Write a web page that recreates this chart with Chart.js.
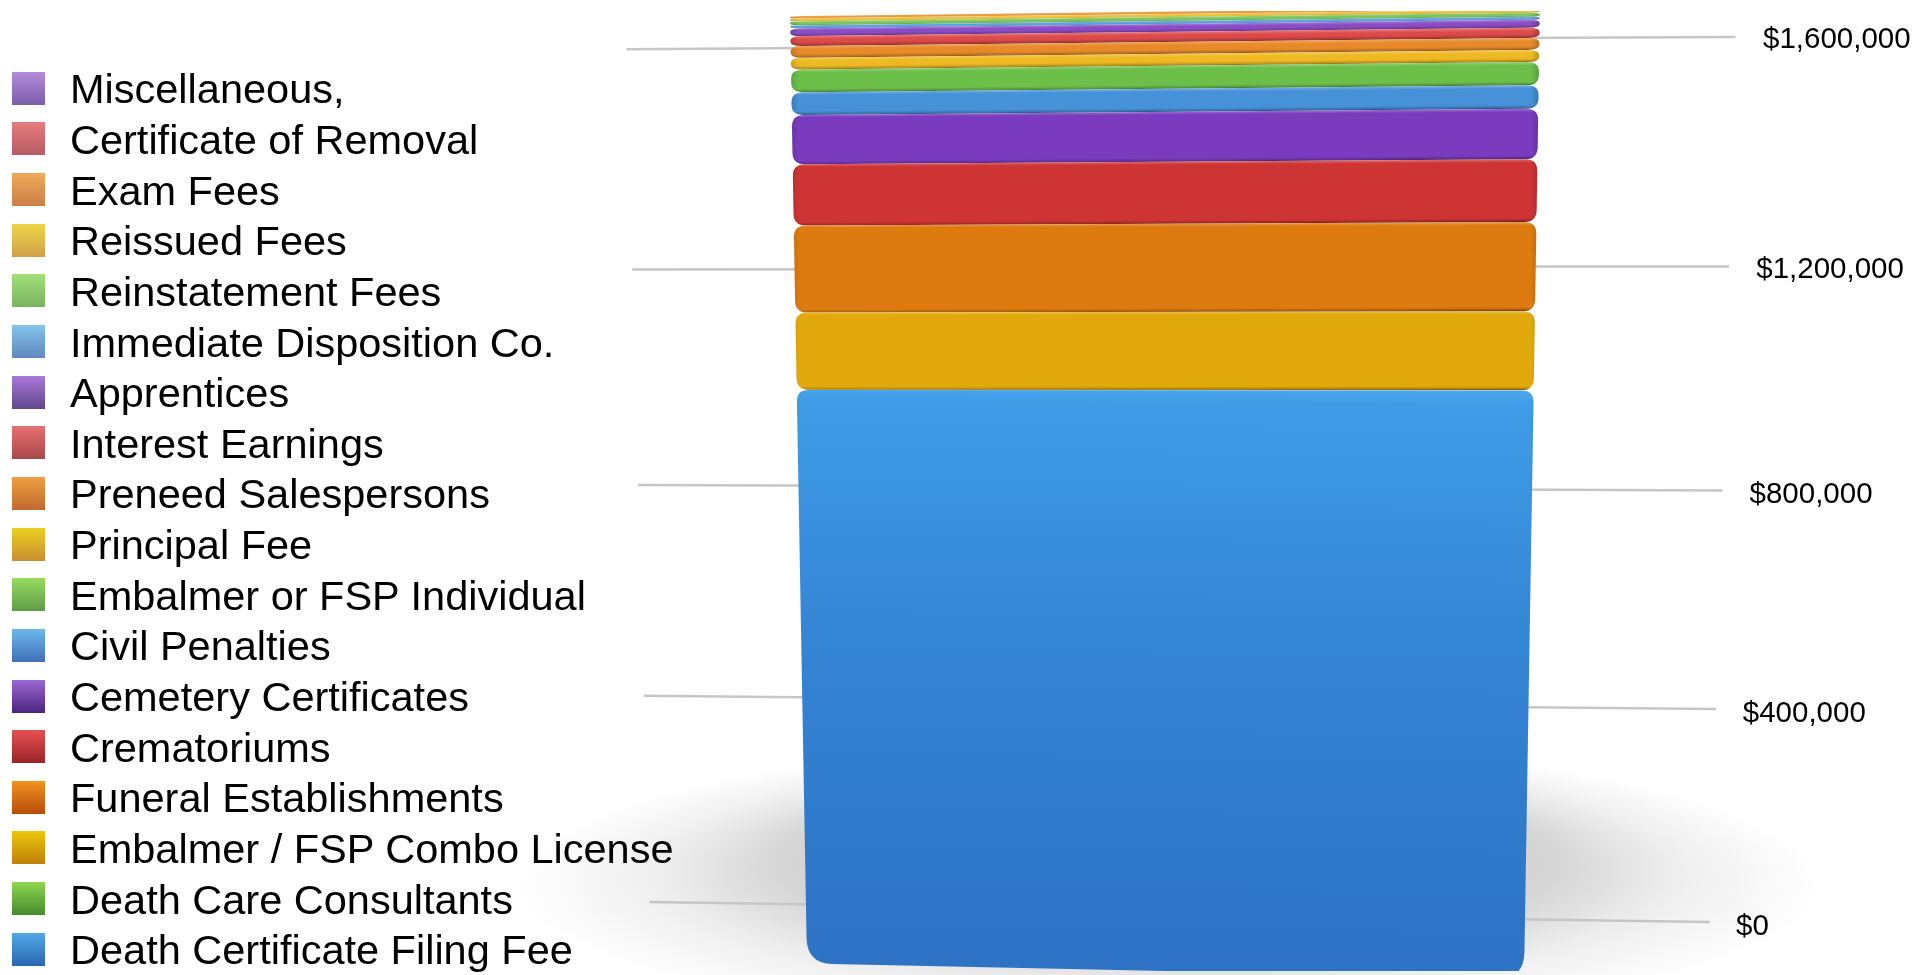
<!DOCTYPE html>
<html>
<head>
<meta charset="utf-8">
<title>Fee revenue</title>
<script src="https://cdn.jsdelivr.net/npm/chart.js@4"></script>
<style>
  html, body { margin: 0; padding: 0; background: #fff; overflow: hidden; }
  #wrap { position: relative; width: 1932px; height: 975px; }
  #c { position: absolute; left: 0; top: 0; }
  #legend { position: absolute; left: 12px; top: 64px; font: 41.5px "Liberation Sans", Arial, sans-serif; color: #000; }
  #legend div { display: flex; align-items: center; height: 50.65px; white-space: nowrap; }
  #legend i { display: block; width: 33px; height: 33px; margin-right: 25px; position: relative; top: -1px; }
</style>
</head>
<body>
<div id="wrap">
  <canvas id="c" width="1932" height="975"></canvas>
  <div id="legend"></div>
</div>
<script>
// bottom of the stack first
const feeNames = [
  "Death Certificate Filing Fee", "Death Care Consultants", "Embalmer / FSP Combo License",
  "Funeral Establishments", "Crematoriums", "Cemetery Certificates", "Civil Penalties",
  "Embalmer or FSP Individual", "Principal Fee", "Preneed Salespersons", "Interest Earnings",
  "Apprentices", "Immediate Disposition Co.", "Reinstatement Fees", "Reissued Fees",
  "Exam Fees", "Certificate of Removal", "Miscellaneous,"
];
const feeValues = [
  975000, 800, 131000, 148000, 104000, 84000, 38600, 38600, 20000,
  20000, 16800, 13400, 5000, 6700, 5000, 4200, 500, 300
];
const feeColors = [
  "#3484d4", "#4fa83a", "#e2a90c", "#dd7a10", "#cf3434", "#7a3bbf", "#4691d8", "#6cc04a", "#eeb922",
  "#e88a2a", "#dd4a4a", "#8a4cc4", "#5da0dc", "#7cc65f", "#eec13c", "#e89a45", "#e06a6a", "#a070d0"
];
const swatchTop = [
  "#50a8e4", "#8ed850", "#ecc80a", "#f09420", "#e85050", "#9c68d4", "#6cb8ec", "#98dc60", "#ecd020",
  "#f0a040", "#e87070", "#a878d8", "#84c4ec", "#a0e078", "#ecd546", "#f0aa58", "#e87c7c", "#b58cdc"
];
const swatchBottom = [
  "#2a66b4", "#458a2c", "#c0800a", "#b84c0a", "#982428", "#4a2480", "#4070b8", "#609c48", "#c88c30",
  "#c06830", "#a84848", "#60488c", "#6088c0", "#7ab460", "#d3a04a", "#cc7f48", "#b55c64", "#7a5eaa"
];
const tickValues = [0, 400000, 800000, 1200000, 1600000];

const money = v => "$" + v.toLocaleString("en-US");

function shade(hex, amt) {
  const n = parseInt(hex.slice(1), 16);
  const f = c => Math.max(0, Math.min(255, Math.round(c + amt * (amt > 0 ? 255 - c : c))));
  return `rgb(${f(n >> 16)},${f((n >> 8) & 255)},${f(n & 255)})`;
}

// html legend, top row is the top of the stack
const legendEl = document.getElementById("legend");
for (let i = feeNames.length - 1; i >= 0; i--) {
  const row = document.createElement("div");
  const box = document.createElement("i");
  box.style.background = `linear-gradient(${swatchTop[i]}, ${swatchBottom[i]})`;
  row.appendChild(box);
  row.appendChild(document.createTextNode(feeNames[i]));
  legendEl.appendChild(row);
}

let area;

// the stack is seen slightly from below: narrower and tilted near the floor
function project(u, py) {
  const v = (area.bottom - py) / (area.bottom - area.top);
  const l = area.left + 17 * (1 - v);
  const r = area.right - 16 * (1 - v);
  return [l + (r - l) * u, py + (u - 0.5) * (15 - 24 * v)];
}

function slabPath(ctx, top, bottom, big) {
  const h = bottom - top;
  const ry = Math.min(12, h * 0.42);
  const ryB = big ? 26 : ry;
  const ru = 12 / 748;
  const ruB = big ? 26 / 748 : ru;
  const p = project;
  ctx.beginPath();
  ctx.moveTo(...p(ru, top));
  ctx.lineTo(...p(1 - ru, top));
  ctx.quadraticCurveTo(...p(1, top), ...p(1, top + ry));
  ctx.lineTo(...p(1, bottom - ryB));
  ctx.quadraticCurveTo(...p(1, bottom), ...p(1 - ruB, bottom));
  ctx.lineTo(...p(ruB, bottom));
  ctx.quadraticCurveTo(...p(0, bottom), ...p(0, bottom - ryB));
  ctx.lineTo(...p(0, top + ry));
  ctx.quadraticCurveTo(...p(0, top), ...p(ru, top));
  ctx.closePath();
}

Chart.BarElement.prototype.draw = function (ctx) {
  const { y, base } = this.getProps(["y", "base"]);
  const color = this.options.backgroundColor;
  const top = y;
  const bottom = base;
  const h = bottom - top;
  if (h < 1.5) return; // too thin to see in the picture
  const big = h > 300;
  ctx.save();
  slabPath(ctx, top, bottom, big);
  // gradient runs square to the tilted slab, not straight down the page
  const [lx, ly] = project(0, (top + bottom) / 2);
  const [rx, ry] = project(1, (top + bottom) / 2);
  const [cx, cy] = project(0.5, top);
  const tall = h + 1;
  const slope = (ry - ly) / (rx - lx);
  const g = ctx.createLinearGradient(cx, cy, cx - slope * tall, cy + tall);
  if (big) {
    g.addColorStop(0, "#49a6ec");
    g.addColorStop(0.02, "#3f9ce6");
    g.addColorStop(0.45, "#3484d4");
    g.addColorStop(1, "#2e72c4");
  } else {
    const edge = Math.min(0.3, 3 / h);
    g.addColorStop(0, shade(color, 0.25));
    g.addColorStop(edge, color);
    g.addColorStop(1 - edge * 1.5, color);
    g.addColorStop(1 - edge * 0.6, shade(color, -0.22));
    g.addColorStop(1, shade(color, -0.75));
  }
  ctx.fillStyle = g;
  ctx.fill();
  // bevel on the left and right sides
  ctx.clip();
  const side = ctx.createLinearGradient(area.left, 0, area.right, 0);
  side.addColorStop(0, "rgba(0,0,0,0.16)");
  side.addColorStop(0.012, "rgba(0,0,0,0)");
  side.addColorStop(0.988, "rgba(0,0,0,0)");
  side.addColorStop(1, "rgba(0,0,0,0.2)");
  ctx.fillStyle = side;
  ctx.fillRect(area.left, top - 10, area.right - area.left, h + 20);
  ctx.restore();
};

const perspectiveTicks = {
  id: "perspectiveTicks",
  afterLayout(c) {
    area = c.chartArea;
    // labels drift left and down towards the floor
    c.scales.yRight.getLabelItems().forEach((item, i) => {
      const t = tickValues[i] / 1600000;
      item.options.translation[0] += 27 * t;
      item.options.translation[1] += 44 * t * (1 - t) + 6 * (1 - t) + 2;
    });
  },
  beforeDraw(c) {
    // floor shadow, has to stay under the axis labels
    const ctx = c.ctx;
    ctx.save();
    ctx.translate(1168, 885);
    ctx.scale(1, 145 / 650);
    const s = ctx.createRadialGradient(0, -224, 0, 0, 0, 650);
    s.addColorStop(0, "#c4c4c4");
    s.addColorStop(0.6, "#d6d6d6");
    s.addColorStop(0.78, "#eeeeee");
    s.addColorStop(1, "#ffffff");
    ctx.fillStyle = s;
    ctx.beginPath();
    ctx.arc(0, 0, 650, 0, Math.PI * 2);
    ctx.fill();
    ctx.restore();
  },
  beforeDatasetsDraw(c) {
    const ctx = c.ctx;
    ctx.save();
    ctx.strokeStyle = "#c6c6c6";
    ctx.lineWidth = 2.5;
    tickValues.forEach(value => {
      const t = value / 1600000;
      const bow = 44 * t * (1 - t);
      const yr = c.scales.yRight.getPixelForValue(value) + bow;
      const yl = c.scales.yLeft.getPixelForValue(value) + bow * 0.85;
      ctx.beginPath();
      ctx.moveTo(1709.5 + 26 * t, yr + 3 * (1 - t) - t);
      ctx.lineTo(1500, yr);
      ctx.stroke();
      ctx.beginPath();
      ctx.moveTo(649.5 - 23 * t, yl - 3 * (1 - t) + 1.5 * t);
      ctx.lineTo(850, yl);
      ctx.stroke();
    });
    ctx.restore();
  }
};

new Chart(document.getElementById("c"), {
  type: "bar",
  data: {
    labels: [""],
    datasets: feeNames.map((name, i) => ({
      label: name,
      data: [feeValues[i]],
      backgroundColor: feeColors[i],
      barPercentage: 1,
      categoryPercentage: 1
    }))
  },
  plugins: [perspectiveTicks],
  options: {
    responsive: false,
    animation: false,
    layout: { padding: { left: 790, top: 11, bottom: 4, right: 0 } },
    plugins: { legend: { display: false }, tooltip: { enabled: false } },
    scales: {
      x: { stacked: true, display: false },
      y: { stacked: true, display: false, min: 0, max: 1612000 },
      yLeft: { display: false, position: "left", min: -123200, max: 1668800 },
      yRight: {
        position: "right",
        min: -94500,
        max: 1649000,
        grid: { display: false, drawTicks: false },
        border: { display: false },
        afterBuildTicks: axis => { axis.ticks = tickValues.map(value => ({ value })); },
        afterFit: axis => { axis.width = 392; axis.paddingTop = 0; axis.paddingBottom = 0; },
        ticks: {
          autoSkip: false,
          padding: 196,
          color: "#000",
          font: { family: '"Liberation Sans", Arial, sans-serif', size: 29.5 },
          callback: money
        }
      }
    }
  }
});
</script>
</body>
</html>
